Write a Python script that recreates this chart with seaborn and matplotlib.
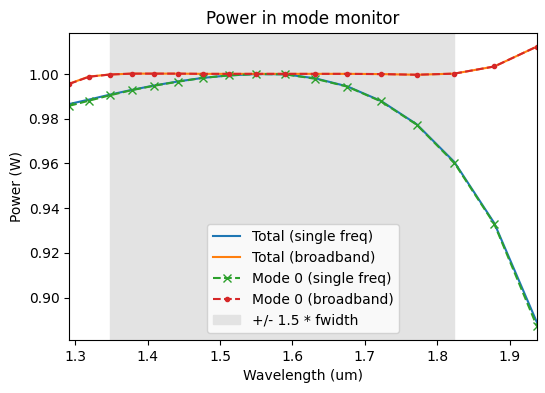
import matplotlib
matplotlib.use("Agg")
import matplotlib.pyplot as plt
import seaborn as sns

# wavelengths of the monitor frequencies (um)
wavelength = [1.2917, 1.3191, 1.3478, 1.3778, 1.4091, 1.4419, 1.4762, 1.5122, 1.5500,
              1.5897, 1.6316, 1.6757, 1.7222, 1.7714, 1.8235, 1.8788, 1.9375]

total_single = [0.9866, 0.9886, 0.9908, 0.9929, 0.9949, 0.9967, 0.9983, 0.9994, 1.0000,
                0.9999, 0.9981, 0.9945, 0.9880, 0.9776, 0.9607, 0.9333, 0.8890]
total_broad = [0.9957, 0.9989, 0.9998, 1.0002, 1.0002, 1.0002, 1.0001, 1.0001, 1.0001,
               1.0001, 1.0001, 1.0001, 1.0000, 0.9997, 1.0002, 1.0034, 1.0123]
mode0_single = [0.9858, 0.9881, 0.9905, 0.9928, 0.9948, 0.9966, 0.9983, 0.9994, 1.0000,
                0.9999, 0.9979, 0.9944, 0.9878, 0.9774, 0.9603, 0.9329, 0.8873]
mode0_broad = [0.9956, 0.9988, 0.9998, 1.0002, 1.0002, 1.0002, 1.0001, 1.0001, 1.0001,
               1.0001, 1.0001, 1.0001, 1.0000, 0.9997, 1.0002, 1.0034, 1.0123]

band_lo, band_hi = 1.3478, 1.8235

fig, ax = plt.subplots(figsize=(5.45, 3.93), dpi=100)

sns.lineplot(x=wavelength, y=total_single, ax=ax, color="tab:blue",
             label="Total (single freq)")
sns.lineplot(x=wavelength, y=total_broad, ax=ax, color="tab:orange",
             label="Total (broadband)")
sns.lineplot(x=wavelength, y=mode0_single, ax=ax, color="tab:green", linestyle="--",
             marker="x", markeredgecolor="tab:green", markeredgewidth=1.0,
             label="Mode 0 (single freq)")
sns.lineplot(x=wavelength, y=mode0_broad, ax=ax, color="tab:red", linestyle="--",
             marker=".", markeredgecolor="tab:red", markeredgewidth=1.0,
             label="Mode 0 (broadband)")
ax.axvspan(band_lo, band_hi, color="#e3e3e3", label="+/- 1.5 * fwidth", zorder=0)

ax.set_xlim(min(wavelength), max(wavelength))
ax.set_xlabel("Wavelength (um)")
ax.set_ylabel("Power (W)")
ax.set_title("Power in mode monitor")
ax.legend(loc="lower center")

fig.subplots_adjust(left=0.127, right=0.985, top=0.917, bottom=0.135)
fig.savefig("out.png", dpi=100)
